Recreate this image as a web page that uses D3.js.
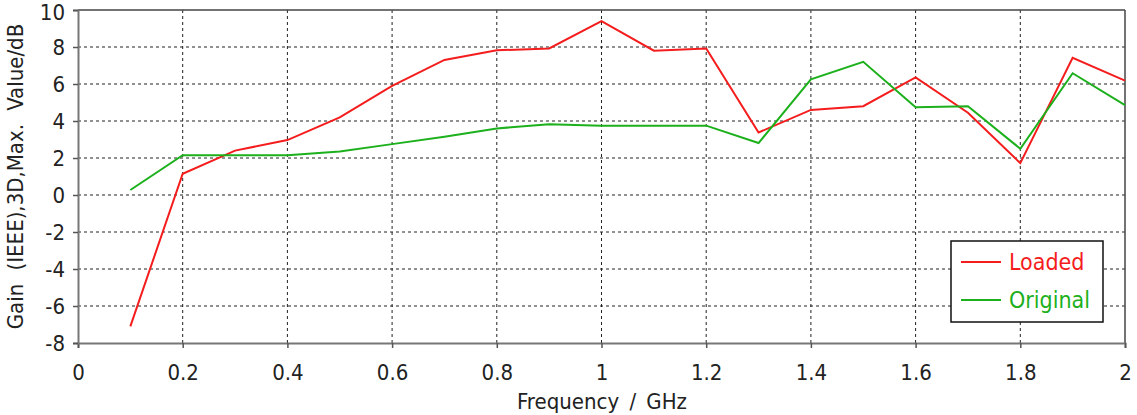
<!DOCTYPE html>
<html>
<head>
<meta charset="utf-8">
<script src="https://cdn.jsdelivr.net/npm/d3@7.9.0/dist/d3.min.js"></script>
<style>
  body { margin: 0; background: #fff; }
  svg text { font-family: "DejaVu Sans Condensed", "DejaVu Sans", sans-serif; }
</style>
</head>
<body>
<div id="chart"></div>
<script>
// frequency points (GHz)
const freq = [0.1, 0.2, 0.3, 0.4, 0.5, 0.6, 0.7, 0.8, 0.9, 1.0, 1.1, 1.2, 1.3, 1.4, 1.5, 1.6, 1.7, 1.8, 1.9, 2.0];
// gain values (dB)
const loaded = [-7.1, 1.15, 2.4, 2.97, 4.2, 5.9, 7.3, 7.82, 7.92, 9.4, 7.8, 7.92, 3.38, 4.6, 4.8, 6.36, 4.45, 1.72, 7.42, 6.18];
const original = [0.27, 2.15, 2.15, 2.15, 2.35, 2.75, 3.15, 3.6, 3.82, 3.75, 3.75, 3.75, 2.81, 6.25, 7.2, 4.74, 4.8, 2.5, 6.58, 4.86];
const xTicks = [0, 0.2, 0.4, 0.6, 0.8, 1, 1.2, 1.4, 1.6, 1.8, 2];
const yTicks = [-8, -6, -4, -2, 0, 2, 4, 6, 8, 10];
const seriesNames = ["Loaded", "Original"];
const seriesColors = ["#f41c1c", "#1cb01c"];

const W = 1137, H = 415;
const mLeft = 78, mRight = 1125, mTop = 10, mBottom = 343;

const svg = d3.select("#chart").append("svg")
    .attr("width", W)
    .attr("height", H);

const x = d3.scaleLinear().domain([0, 2]).range([mLeft, mRight]);
const y = d3.scaleLinear().domain([-8, 10]).range([mBottom, mTop]);

// grid
svg.append("g")
    .selectAll("line")
    .data(xTicks.filter(d => d > 0 && d < 2))
    .join("line")
    .attr("x1", d => x(d)).attr("x2", d => x(d))
    .attr("y1", mTop).attr("y2", mBottom)
    .attr("stroke", "#222")
    .attr("stroke-width", 1)
    .attr("stroke-dasharray", "3,3");

svg.append("g")
    .selectAll("line")
    .data(yTicks.filter(d => d > -8 && d < 10))
    .join("line")
    .attr("x1", mLeft).attr("x2", mRight)
    .attr("y1", d => y(d)).attr("y2", d => y(d))
    .attr("stroke", "#222")
    .attr("stroke-width", 1)
    .attr("stroke-dasharray", "3,3");

// frame: top and right
svg.append("line")
    .attr("x1", mLeft).attr("x2", mRight)
    .attr("y1", mTop).attr("y2", mTop)
    .attr("stroke", "#444").attr("stroke-width", 1.5);
svg.append("line")
    .attr("x1", mRight).attr("x2", mRight)
    .attr("y1", mTop).attr("y2", mBottom)
    .attr("stroke", "#444").attr("stroke-width", 1.5);

// axes
const xAxis = svg.append("g")
    .attr("transform", `translate(0,${mBottom})`)
    .call(d3.axisBottom(x).tickValues(xTicks).tickFormat(d3.format("~g")).tickSize(5).tickPadding(16));
const yAxis = svg.append("g")
    .attr("transform", `translate(${mLeft},0)`)
    .call(d3.axisLeft(y).tickValues(yTicks).tickSize(5).tickPadding(8).tickFormat(d => d < 0 ? "-" + Math.abs(d) : d));

[xAxis, yAxis].forEach(g => {
    g.select(".domain").attr("stroke", "#777").attr("stroke-width", 2);
    g.selectAll(".tick line").attr("stroke", "#555").attr("stroke-width", 1.5);
    g.selectAll(".tick text").attr("fill", "#222").style("font-size", "22px");
});
// keep the top label inside the page
yAxis.selectAll(".tick text").filter(d => d === 10).attr("dy", "0.42em");

// lines
const line = d3.line()
    .x((d, i) => x(freq[i]))
    .y(d => y(d));

[loaded, original].forEach((vals, i) => {
    svg.append("path")
        .datum(vals)
        .attr("fill", "none")
        .attr("stroke", seriesColors[i])
        .attr("stroke-width", 2)
        .attr("d", line);
});

// axis titles
svg.append("text")
    .attr("x", 602)
    .attr("y", 409)
    .attr("text-anchor", "middle")
    .attr("fill", "#222")
    .style("font-size", "22px")
    .style("word-spacing", "4px")
    .text("Frequency / GHz");

svg.append("text")
    .attr("transform", `translate(23,${(mTop + mBottom) / 2}) rotate(-90)`)
    .attr("text-anchor", "middle")
    .attr("fill", "#222")
    .style("font-size", "22px")
    .style("word-spacing", "7px")
    .text("Gain (IEEE),3D,Max. Value/dB");

// legend
const legend = svg.append("g").attr("transform", "translate(951,241)");
legend.append("rect")
    .attr("width", 152).attr("height", 81)
    .attr("fill", "#fff")
    .attr("stroke", "#111")
    .attr("stroke-width", 1.5);
seriesNames.forEach((name, i) => {
    const yy = 21 + i * 38;
    legend.append("line")
        .attr("x1", 10).attr("x2", 50)
        .attr("y1", yy).attr("y2", yy)
        .attr("stroke", seriesColors[i])
        .attr("stroke-width", 2);
    legend.append("text")
        .attr("x", 58).attr("y", yy)
        .attr("dy", "0.35em")
        .attr("fill", seriesColors[i])
        .style("font-size", "23px")
        .text(name);
});
</script>
</body>
</html>
